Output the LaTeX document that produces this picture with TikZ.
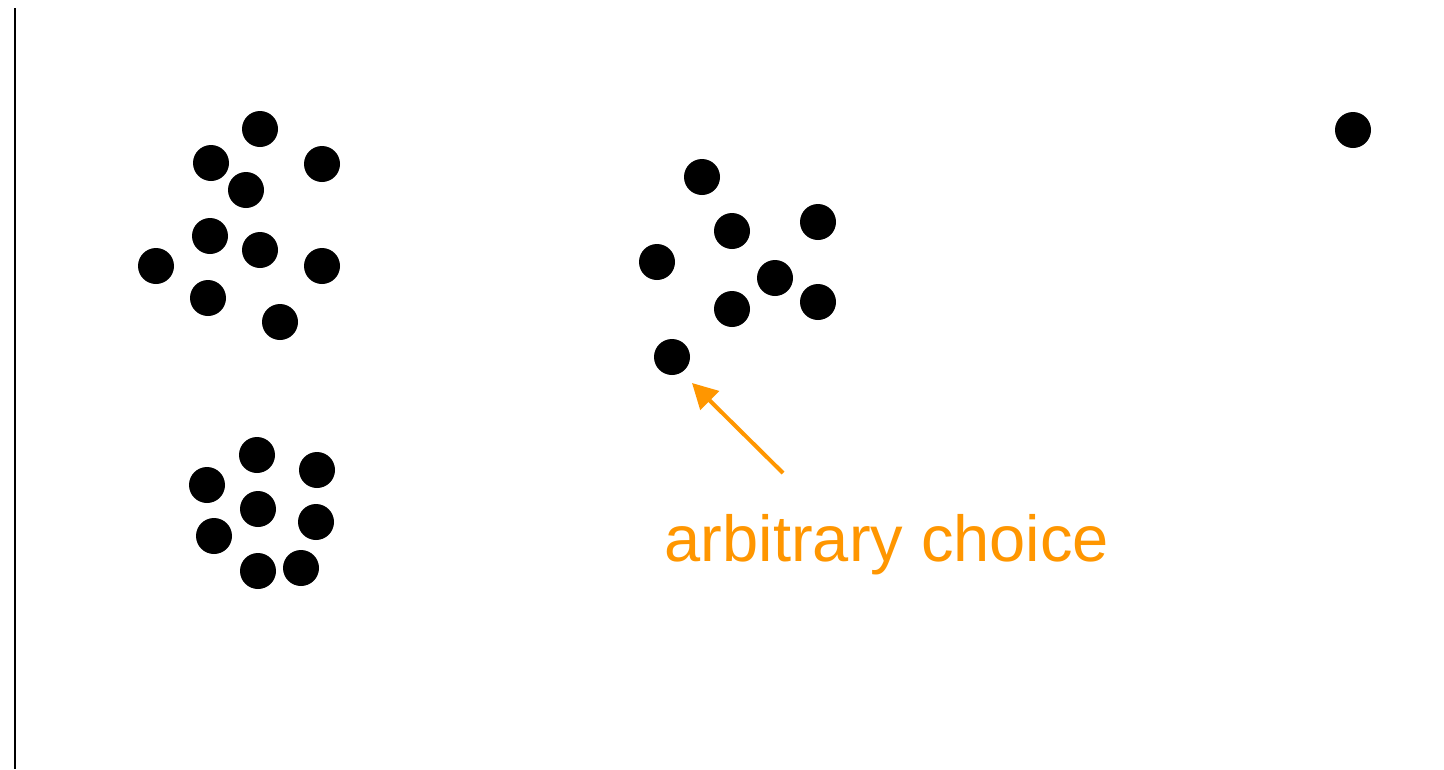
\documentclass[tikz,border=0pt]{standalone}
\usepackage{fontspec}
\setmainfont{Liberation Sans}
\usetikzlibrary{arrows.meta}
\definecolor{accent}{HTML}{FF9600}
\begin{document}
\begin{tikzpicture}[x=1pt,y=-1pt,
  dot/.style={circle,fill=black,inner sep=0pt,minimum size=36pt},
  pointer/.style={draw=accent,line width=4pt,-{Triangle[length=25pt,width=26pt]}},
  label/.style={text=accent,font=\fontsize{65}{78}\selectfont,anchor=base,inner sep=0pt}]
\useasboundingbox (0,0) rectangle (1444,769);
% vertical axis line on the left
\draw[line width=2pt] (15,8) -- (15,769);
% first cluster
\foreach \x/\y [count=\i] in {260/129,211/163,322/164,246/190,210/236,260/250,156/266,322/266,208/298,280/322}
  \node[dot] (a\i) at (\x,\y) {};
% second cluster
\foreach \x/\y [count=\i] in {257/455,207/485,317/470,258/509,214/536,316/522,258/571,301/568}
  \node[dot] (b\i) at (\x,\y) {};
% third cluster
\foreach \x/\y [count=\i] in {702/177,732/231,818/222,657/262,775/278,732/309,818/302,672/357}
  \node[dot] (c\i) at (\x,\y) {};
% lone point
\node[dot] (lone) at (1353,130) {};
% annotation
\coordinate (tail) at (783,473);
\coordinate (tip) at (692,383);
\draw[pointer] (tail) -- (tip);
\node[label] (note) at (887,561) {arbitrary choice};
\end{tikzpicture}
\end{document}
